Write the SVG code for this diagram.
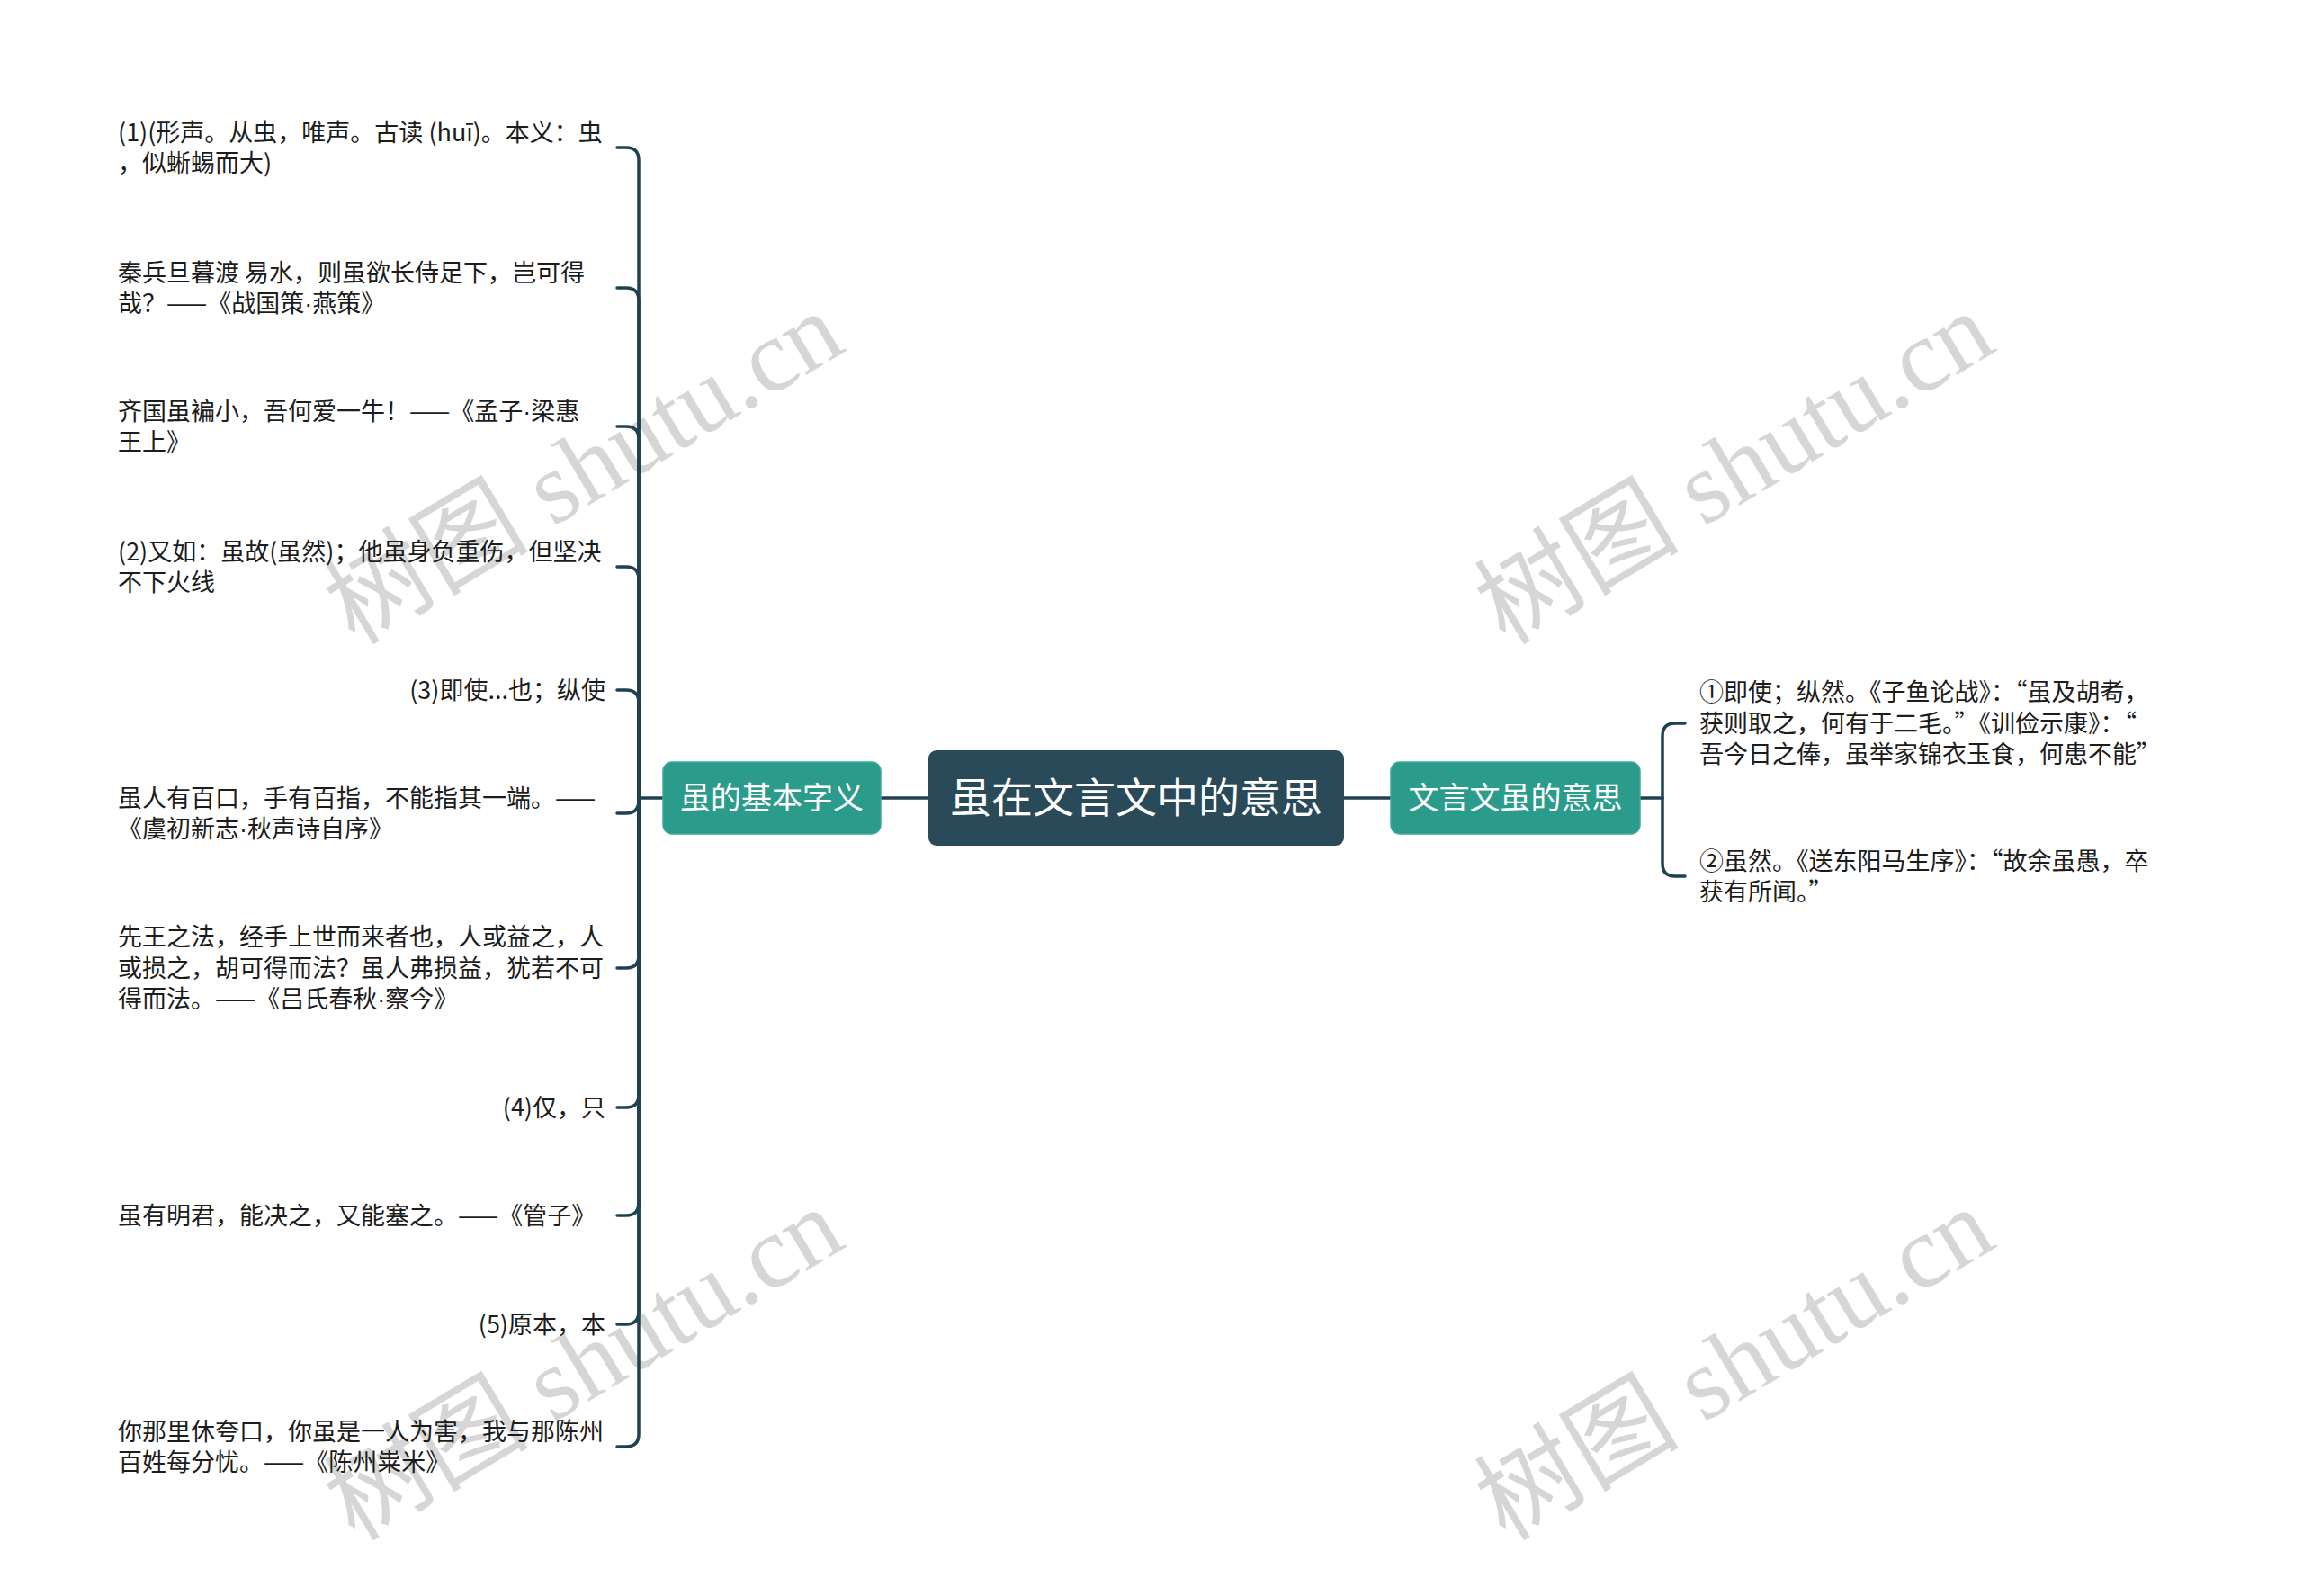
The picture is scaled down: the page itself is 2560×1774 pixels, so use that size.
<svg xmlns="http://www.w3.org/2000/svg" width="2560" height="1774" viewBox="0 0 2560 1774">
<style>
.wm{font-family:"Liberation Serif","Noto Sans CJK SC",serif;font-size:114px;fill:#d6d6d6}
.leaf{font-family:"Noto Sans CJK SC","Noto Sans",sans-serif;font-size:27px;fill:#1c1c1c}
.end{text-anchor:end}
.dot{font-family:"Liberation Sans",sans-serif}
.ntext{font-family:"Noto Sans CJK SC","Noto Sans",sans-serif;fill:#ffffff;text-anchor:middle}
.conn{fill:none;stroke:#1f4150;stroke-width:3.5;stroke-linecap:round;stroke-linejoin:round}
.branch{fill:#2b9b8b;stroke:#3aa999;stroke-width:1.5}
</style>
<rect width="2560" height="1774" fill="#ffffff"/>
<g id="watermarks">
<text class="wm" text-anchor="middle" transform="translate(648 519) rotate(-31)" y="40">树图 shutu.cn</text>
<text class="wm" text-anchor="middle" transform="translate(1927 519) rotate(-31)" y="40">树图 shutu.cn</text>
<text class="wm" text-anchor="middle" transform="translate(648 1515) rotate(-31)" y="40">树图 shutu.cn</text>
<text class="wm" text-anchor="middle" transform="translate(1927 1515) rotate(-31)" y="40">树图 shutu.cn</text>
</g>
<g id="connectors">
<path class="conn" d="M1032 887 H980"/>
<path class="conn" d="M1494 887 H1546"/>
<path class="conn" d="M737 887 H710"/>
<path class="conn" d="M710 887 V178 Q710 164 696 164 H686"/>
<path class="conn" d="M710 887 V334 Q710 320 696 320 H686"/>
<path class="conn" d="M710 887 V488 Q710 474 696 474 H686"/>
<path class="conn" d="M710 887 V644 Q710 630 696 630 H686"/>
<path class="conn" d="M710 887 V781 Q710 767 696 767 H686"/>
<path class="conn" d="M710 887 V890 Q710 904 696 904 H686"/>
<path class="conn" d="M710 887 V1062 Q710 1076 696 1076 H686"/>
<path class="conn" d="M710 887 V1217 Q710 1231 696 1231 H686"/>
<path class="conn" d="M710 887 V1337 Q710 1351 696 1351 H686"/>
<path class="conn" d="M710 887 V1458 Q710 1472 696 1472 H686"/>
<path class="conn" d="M710 887 V1594 Q710 1608 696 1608 H686"/>
<path class="conn" d="M1823 887 H1848"/>
<path class="conn" d="M1848 887 V818 Q1848 804 1862 804 H1873"/>
<path class="conn" d="M1848 887 V960 Q1848 974 1862 974 H1873"/>
</g>
<g id="root">
<rect x="1032" y="834" width="462" height="106" rx="9" fill="#284a59"/>
<text class="ntext" x="1263" y="903" font-size="46">虽在文言文中的意思</text>
</g>
<g id="node-basic">
<rect class="branch" x="737" y="847" width="242" height="80" rx="10"/>
<text class="ntext" x="858" y="899" font-size="34">虽的基本字义</text>
</g>
<g id="node-meaning">
<rect class="branch" x="1546" y="847" width="277" height="80" rx="10"/>
<text class="ntext" x="1684.5" y="899" font-size="34">文言文虽的意思</text>
</g>
<g id="leaf-1"><text class="leaf" x="131" y="157">(1)(形声。从虫，唯声。古读 (huī)。本义：虫</text><text class="leaf" x="131" y="191">，似蜥蜴而大)</text></g>
<g id="leaf-2"><text class="leaf" x="131" y="313">秦兵旦暮渡 易水，则虽欲长侍足下，岂可得</text><text class="leaf" x="131" y="347">哉？——《战国策<tspan class="dot">·</tspan>燕策》</text></g>
<g id="leaf-3"><text class="leaf" x="131" y="467">齐国虽褊小，吾何爱一牛！——《孟子<tspan class="dot">·</tspan>梁惠</text><text class="leaf" x="131" y="501">王上》</text></g>
<g id="leaf-4"><text class="leaf" x="131" y="623">(2)又如：虽故(虽然)；他虽身负重伤，但坚决</text><text class="leaf" x="131" y="657">不下火线</text></g>
<g id="leaf-5"><text class="leaf end" x="673" y="777">(3)即使...也；纵使</text></g>
<g id="leaf-6"><text class="leaf" x="131" y="897">虽人有百口，手有百指，不能指其一端。——</text><text class="leaf" x="131" y="931">《虞初新志<tspan class="dot">·</tspan>秋声诗自序》</text></g>
<g id="leaf-7"><text class="leaf" x="131" y="1051">先王之法，经手上世而来者也，人或益之，人</text><text class="leaf" x="131" y="1086">或损之，胡可得而法？虽人弗损益，犹若不可</text><text class="leaf" x="131" y="1120">得而法。——《吕氏春秋<tspan class="dot">·</tspan>察今》</text></g>
<g id="leaf-8"><text class="leaf end" x="673" y="1241">(4)仅，只</text></g>
<g id="leaf-9"><text class="leaf" x="131" y="1361">虽有明君，能决之，又能塞之。——《管子》</text></g>
<g id="leaf-10"><text class="leaf end" x="673" y="1482">(5)原本，本</text></g>
<g id="leaf-11"><text class="leaf" x="131" y="1601">你那里休夸口，你虽是一人为害，我与那陈州</text><text class="leaf" x="131" y="1635">百姓每分忧。——《陈州粜米》</text></g>
<g id="leaf-r1"><text class="leaf" x="1889" y="779">①即使；纵然。《子鱼论战》：“虽及胡耇，</text><text class="leaf" x="1889" y="814">获则取之，何有于二毛。”《训俭示康》：“</text><text class="leaf" x="1889" y="848">吾今日之俸，虽举家锦衣玉食，何患不能”</text></g>
<g id="leaf-r2"><text class="leaf" x="1889" y="967">②虽然。《送东阳马生序》：“故余虽愚，卒</text><text class="leaf" x="1889" y="1001">获有所闻。”</text></g>
</svg>
